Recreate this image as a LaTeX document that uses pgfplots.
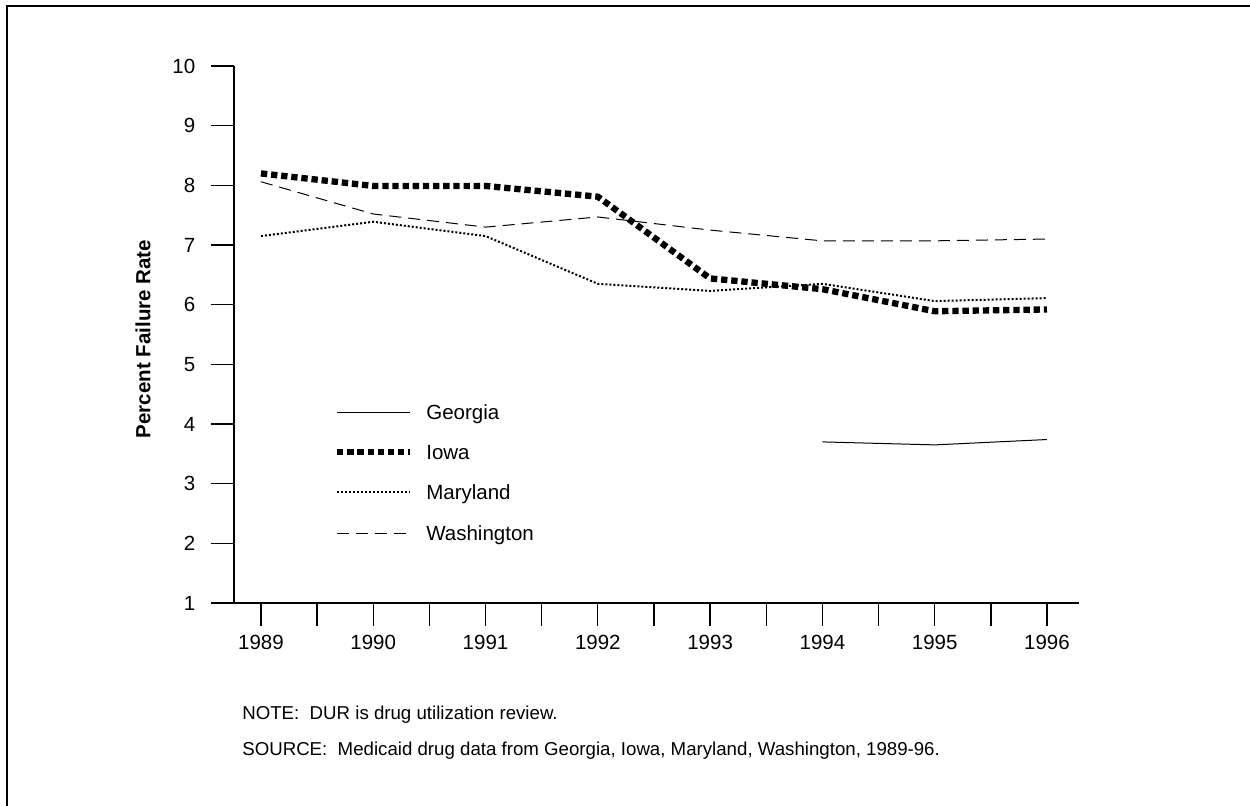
\documentclass[border=0pt]{standalone}
\usepackage{fontspec}
\setmainfont{Liberation Sans}
\usepackage{pgfplots}
\pgfplotsset{compat=1.18}
\newcommand{\fs}{\fontsize{12.3}{14}\selectfont}
\newcommand{\fn}{\fontsize{11.2}{13}\selectfont}
\tikzset{
  georgia/.style={black, line width=0.6pt},
  iowa/.style={black, line width=3.8pt, dash pattern=on 3.8pt off 2.3pt},
  maryland/.style={black, line width=1.2pt, dash pattern=on 1.2pt off 1.2pt},
  washington/.style={black, line width=0.6pt, dash pattern=on 7.2pt off 4.2pt},
}
\begin{document}
\begin{tikzpicture}
\begin{axis}[
  at={(140.4pt,-361.8pt)}, anchor=south west,
  scale only axis, width=507pt, height=322.2pt,
  xmin=1988.76, xmax=1996.285, ymin=1, ymax=10,
  axis x line*=bottom, axis y line*=left,
  xtick={1989,1990,1991,1992,1993,1994,1995,1996},
  minor xtick={1989.5,1990.5,1991.5,1992.5,1993.5,1994.5,1995.5},
  ytick={1,2,3,4,5,6,7,8,9,10},
  tick align=outside,
  major tick length=13.8pt, minor tick length=13.8pt,
  every tick/.style={black, line width=0.8pt},
  every minor tick/.style={black, line width=0.8pt},
  axis line style={black, line width=0.8pt},
  tick label style={font=\fs},
  yticklabel style={xshift=-6pt},
  xticklabel style={yshift=-1.8pt},
  /pgf/number format/assume math mode=true,
  /pgf/number format/1000 sep={},
  clip=false,
]
\addplot[georgia] coordinates {(1994,3.70) (1995,3.65) (1996,3.74)};
\addplot[iowa] coordinates {(1989,8.20) (1990,7.99) (1991,7.99) (1992,7.81) (1993,6.44) (1994,6.26) (1995,5.89) (1996,5.92)};
\addplot[maryland] coordinates {(1989,7.15) (1990,7.39) (1991,7.15) (1992,6.35) (1993,6.23) (1994,6.35) (1995,6.06) (1996,6.11)};
\addplot[washington] coordinates {(1989,8.06) (1990,7.52) (1991,7.30) (1992,7.47) (1993,7.25) (1994,7.07) (1995,7.07) (1996,7.10)};
\end{axis}
\begin{scope}[x=0.6pt,y=-0.6pt]
\path[use as bounding box] (0,0) rectangle (1250,806);
\draw[line width=1.2pt] (7,806) -- (7,6) -- (1250,6);
\node[rotate=90, inner sep=0, font=\fs\bfseries] at (143,339) {Percent Failure Rate};
% legend
\draw[georgia] (337,412) -- (410,412);
\draw[iowa] (337,452) -- (410,452);
\draw[maryland] (337,492) -- (410,492);
\draw[washington] (337,533) -- (410,533);
\node[anchor=base west, inner sep=0, font=\fs] at (426,419.4) {Georgia};
\node[anchor=base west, inner sep=0, font=\fs] at (426,459.4) {Iowa};
\node[anchor=base west, inner sep=0, font=\fs] at (426,499.4) {Maryland};
\node[anchor=base west, inner sep=0, font=\fs] at (426,540.4) {Washington};
% notes
\node[anchor=base west, inner sep=0, font=\fn] at (242,719) {NOTE:\ \ DUR is drug utilization review.};
\node[anchor=base west, inner sep=0, font=\fn] at (242,755) {SOURCE:\ \ Medicaid drug data from Georgia, Iowa, Maryland, Washington, 1989-96.};
\end{scope}
\end{tikzpicture}
\end{document}
